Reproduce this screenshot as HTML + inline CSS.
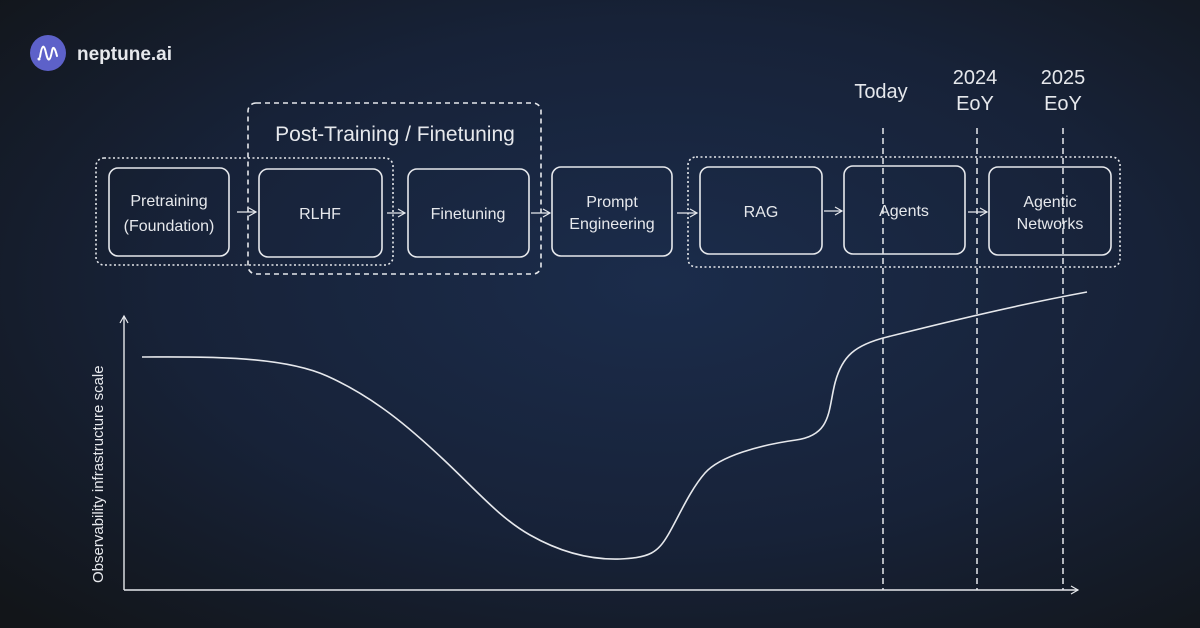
<!DOCTYPE html>
<html><head><meta charset="utf-8"><style>
html,body{margin:0;padding:0;width:1200px;height:628px;overflow:hidden;background:#13171d}
svg{display:block}
text{font-family:"Liberation Sans",sans-serif;fill:#e6e8ec}
</style></head><body>
<svg width="1200" height="628" viewBox="0 0 1200 628" xmlns="http://www.w3.org/2000/svg">
<defs>
<radialGradient id="bg" cx="0.55" cy="0.45" r="0.75">
<stop offset="0" stop-color="#1b2c4b"/>
<stop offset="0.55" stop-color="#172238"/>
<stop offset="1" stop-color="#121519"/>
</radialGradient>
<marker id="ah" markerWidth="10" markerHeight="10" refX="8" refY="5" orient="auto" markerUnits="userSpaceOnUse">
<path d="M1,1 L8,5 L1,9" fill="none" stroke="#e6e8ec" stroke-width="1.2"/>
</marker>
</defs>
<rect width="1200" height="628" fill="url(#bg)"/>
<circle cx="48" cy="53" r="18" fill="#5d61c9"/>
<path d="M40,57 C42,44 44,44 46,53 C48,62 50,62 52,51 C53,45 55,48 57,56" fill="none" stroke="#fff" stroke-width="2" stroke-linecap="round"/>
<circle cx="39" cy="59" r="1.5" fill="#fff"/>
<text x="77" y="60" font-size="19" font-weight="bold" fill="#fff">neptune.ai</text>
<g fill="none" stroke="#e6e8ec" stroke-width="1.6">
<rect x="96" y="158" width="297" height="107" rx="8" stroke-dasharray="2 2.5"/>
<rect x="688" y="157" width="432" height="110" rx="8" stroke-dasharray="2 2.5"/>
<rect x="248" y="103" width="293" height="171" rx="8" stroke-dasharray="5 4"/>
</g>
<text x="395" y="141" font-size="21" text-anchor="middle">Post-Training / Finetuning</text>
<g fill="none" stroke="#e6e8ec" stroke-width="1.6">
<rect x="109" y="168" width="120" height="88" rx="9"/>
<rect x="259" y="169" width="123" height="88" rx="9"/>
<rect x="408" y="169" width="121" height="88" rx="9"/>
<rect x="552" y="167" width="120" height="89" rx="9"/>
<rect x="700" y="167" width="122" height="87" rx="9"/>
<rect x="844" y="166" width="121" height="88" rx="9"/>
<rect x="989" y="167" width="122" height="88" rx="9"/>
</g>
<g font-size="16" text-anchor="middle">
<text x="169" y="206">Pretraining</text><text x="169" y="231">(Foundation)</text>
<text x="320" y="219">RLHF</text>
<text x="468" y="219">Finetuning</text>
<text x="612" y="207">Prompt</text><text x="612" y="229">Engineering</text>
<text x="761" y="217">RAG</text>
<text x="904" y="216">Agents</text>
<text x="1050" y="207">Agentic</text><text x="1050" y="229">Networks</text>
</g>
<g stroke="#e6e8ec" stroke-width="1.3" marker-end="url(#ah)">
<line x1="237" y1="212" x2="256" y2="212"/>
<line x1="387" y1="213" x2="405" y2="213"/>
<line x1="531" y1="213" x2="550" y2="213"/>
<line x1="677" y1="213" x2="697" y2="213"/>
<line x1="824" y1="211" x2="842" y2="211"/>
<line x1="968" y1="212" x2="987" y2="212"/>
</g>
<g font-size="20" text-anchor="middle">
<text x="881" y="98">Today</text>
<text x="975" y="84">2024</text><text x="975" y="110">EoY</text>
<text x="1063" y="84">2025</text><text x="1063" y="110">EoY</text>
</g>
<g stroke="#e6e8ec" stroke-width="1.5" stroke-dasharray="6 4">
<line x1="883" y1="128" x2="883" y2="590"/>
<line x1="977" y1="128" x2="977" y2="590"/>
<line x1="1063" y1="128" x2="1063" y2="590"/>
</g>
<g stroke="#e6e8ec" stroke-width="1.4" fill="none">
<line x1="124" y1="590" x2="124" y2="316" marker-end="url(#ah)"/>
<line x1="124" y1="590" x2="1078" y2="590" marker-end="url(#ah)"/>
</g>
<text transform="translate(103,583) rotate(-90)" font-size="15">Observability infrastructure scale</text>
<path d="M142,357 C200,357 280,355 327,376 S 410,428 444,460 S 500,518 530,535 S 590,560 620,559 S 658,552 668,535 S 690,490 705,473 S 760,445 796,440 S 828,410 835,383 S 855,345 887,337 S 1000,308 1087,292"
 fill="none" stroke="#e6e8ec" stroke-width="1.6"/>
</svg>
</body></html>
